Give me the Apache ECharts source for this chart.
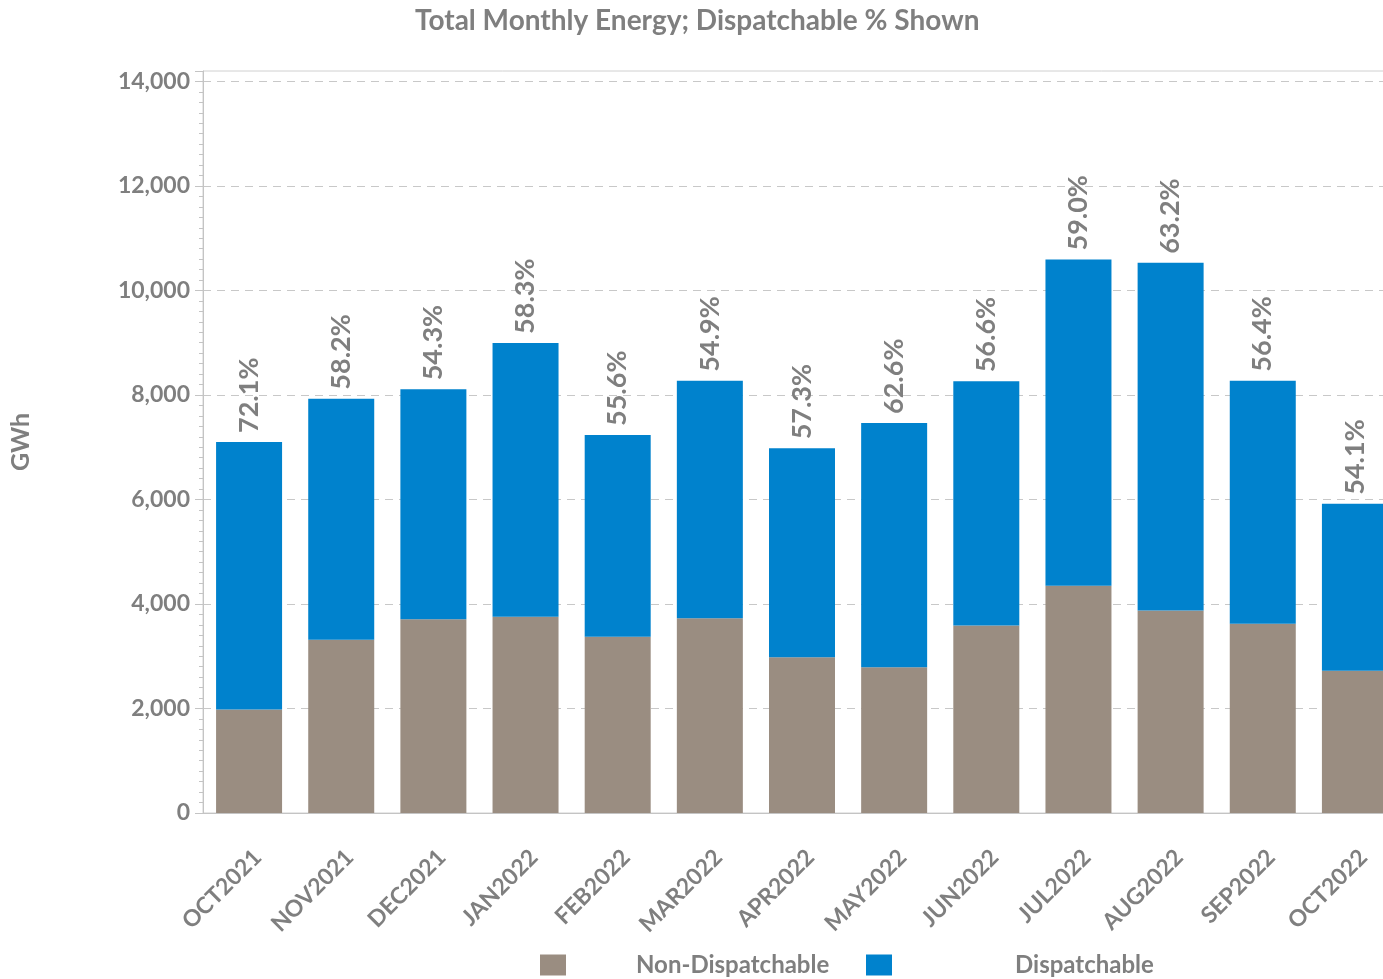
<!DOCTYPE html>
<html>
<head>
<meta charset="utf-8">
<script src="https://cdn.jsdelivr.net/npm/echarts@6/dist/echarts.min.js"></script>
<style>
  html, body { margin: 0; padding: 0; background: #ffffff; overflow: hidden; }
  /* the plot runs slightly past the right edge of the window, so the chart box is a bit wider */
  #chart { width: 1401px; height: 979px; }
</style>
</head>
<body>
<div id="chart"></div>
<script>
// Monthly energy (GWh) split into non-dispatchable and dispatchable parts
const months = ['OCT2021', 'NOV2021', 'DEC2021', 'JAN2022', 'FEB2022', 'MAR2022', 'APR2022',
                'MAY2022', 'JUN2022', 'JUL2022', 'AUG2022', 'SEP2022', 'OCT2022'];
const nonDispatchable = [1981, 3315, 3710, 3754, 3371, 3729, 2982, 2791, 3588, 4348, 3875, 3620, 2720];
const dispatchable    = [5119, 4615, 4398, 5242, 3864, 4545, 3996, 4673, 4673, 6244, 6654, 4654, 3198];
// Dispatchable share of each month's total, as printed above the bars
const dispatchablePct = [72.1, 58.2, 54.3, 58.3, 55.6, 54.9, 57.3, 62.6, 56.6, 59.0, 63.2, 56.4, 54.1];
// Value axis
const yMin = 0;
const yMax = 14200;
const yMajor = 2000;
const yMinor = 200;

const FONT = 'Lato';
const TEXT = '#7f7f7f';
const GRAY = '#9a8d81';
const BLUE = '#0082cd';
const AXIS = '#c4c4c4';

const chart = echarts.init(document.getElementById('chart'), null, { renderer: 'canvas' });

// one visible split line per labelled major tick; the line at the axis top stays hidden
const majorCount = Math.floor(yMax / yMajor) + 1;
const splitColors = [];
for (let i = 0; i < majorCount; i++) splitColors.push('#c8c8c8');
splitColors.push('rgba(0,0,0,0)');

chart.setOption({
  animation: false,
  backgroundColor: '#ffffff',
  textStyle: { fontFamily: FONT },
  title: {
    text: 'Total Monthly Energy; Dispatchable % Shown',
    left: 410,
    top: 2,
    textStyle: { fontFamily: FONT, fontSize: 28, fontWeight: 'bold', color: TEXT }
  },
  legend: [
    {
      data: ['Non-Dispatchable'],
      left: 540, top: 953, padding: 0,
      itemWidth: 26, itemHeight: 21, icon: 'rect',
      textStyle: { fontFamily: FONT, fontSize: 24, fontWeight: 'bold', color: TEXT, padding: [0, 0, 0, 65] }
    },
    {
      data: ['Dispatchable'],
      left: 866, top: 953, padding: 0,
      itemWidth: 26, itemHeight: 21, icon: 'rect',
      textStyle: { fontFamily: FONT, fontSize: 24, fontWeight: 'bold', color: TEXT, padding: [0, 0, 0, 118] }
    }
  ],
  grid: {
    left: 203, top: 71, right: 0, bottom: 166,
    show: true, borderColor: '#d0d0d0', borderWidth: 1, backgroundColor: 'rgba(0,0,0,0)'
  },
  xAxis: {
    type: 'category',
    data: months,
    axisLine: { lineStyle: { color: AXIS, width: 1 } },
    axisTick: { show: false },
    axisLabel: {
      interval: 0, rotate: 45, margin: 32,
      // an empty first line drops the month name slightly below and right of its tick
      formatter: v => '\n' + v,
      lineHeight: 24,
      fontFamily: FONT, fontSize: 23, fontWeight: 'bold', color: TEXT
    }
  },
  yAxis: [
    {
      type: 'value',
      min: yMin, max: yMax, interval: yMajor,
      name: 'GWh', nameLocation: 'middle', nameGap: 170,
      nameTextStyle: { fontFamily: FONT, fontSize: 25, fontWeight: 'bold', color: TEXT },
      axisLine: { show: true, lineStyle: { color: AXIS } },
      axisTick: { show: true, length: 8, lineStyle: { color: AXIS } },
      axisLabel: {
        margin: 13, fontFamily: FONT, fontSize: 23, fontWeight: 'bold', color: TEXT,
        formatter: v => (v % yMajor === 0 ? v.toLocaleString('en-US') : '')
      },
      splitLine: { show: true, lineStyle: { color: splitColors, type: [8, 6], width: 1 } }
    },
    {
      type: 'value',
      position: 'left',
      min: yMin, max: yMax, interval: yMinor,
      axisLine: { show: false },
      axisTick: { show: true, length: 4, lineStyle: { color: AXIS } },
      axisLabel: { show: false },
      splitLine: { show: false }
    }
  ],
  series: [
    {
      name: 'Non-Dispatchable',
      type: 'bar',
      stack: 'energy',
      data: nonDispatchable,
      barWidth: 66,
      itemStyle: { color: GRAY }
    },
    {
      name: 'Dispatchable',
      type: 'bar',
      stack: 'energy',
      data: dispatchable,
      barWidth: 66,
      itemStyle: { color: BLUE },
      label: {
        show: true,
        position: 'top',
        rotate: 90,
        align: 'left',
        verticalAlign: 'middle',
        distance: 9,
        fontFamily: FONT, fontSize: 27, fontWeight: 'bold', color: TEXT,
        formatter: p => dispatchablePct[p.dataIndex].toFixed(1) + '%'
      }
    }
  ]
});
</script>
</body>
</html>
